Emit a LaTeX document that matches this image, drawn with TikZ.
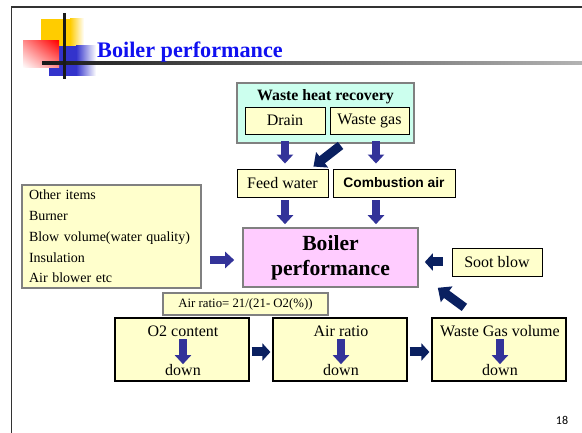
\documentclass[tikz,border=0pt]{standalone}
\usepackage{fontspec}
\setmainfont{Liberation Serif}
\newfontfamily\arialfont{Liberation Sans}
\newfontfamily\calfont{Carlito}
\usetikzlibrary{arrows.meta,calc,shadings}
\definecolor{ybg}{HTML}{FFFFCC}
\definecolor{cbg}{HTML}{CCFFEE}
\definecolor{pbg}{HTML}{FFCCFF}
\definecolor{arrblue}{HTML}{333399}
\definecolor{navy}{HTML}{0A2060}
\definecolor{boxgray}{HTML}{808080}
\definecolor{titleblue}{HTML}{1010F0}
\definecolor{decoyellow}{HTML}{FFCC00}
\definecolor{decoblue}{HTML}{3333CC}
\begin{document}
\begin{tikzpicture}[x=1pt,y=-1pt,
  ybox/.style={draw=black, fill=ybg, line width=0.9pt, inner sep=0pt, align=center},
  gbox/.style={draw=boxgray, line width=1.6pt, inner sep=0pt},
  bluearr/.style={draw=arrblue, line width=7.5pt, -{Triangle[width=16pt,length=9pt]}},
  navyarr/.style={draw=navy, line width=9pt, -{Triangle[width=19pt,length=11pt]}},
  navysm/.style={draw=navy, line width=9pt, -{Triangle[width=17pt,length=8pt]}},
  t16/.style={font=\fontsize{16}{18}\selectfont},
]
\useasboundingbox (0,0) rectangle (582,433);
% slide frame
\draw[draw=black!80, line width=1.6pt] (11.5,433) -- (11.5,6.8) -- (582,6.8);
% decoration
\fill[decoyellow] (41,19) rectangle (70,46);
\shade[left color=decoyellow, right color=white] (70,19) rectangle (84,46);
\fill[decoblue] (49,46) rectangle (76,76);
\shade[left color=decoblue, right color=white] (76,46) rectangle (96,76);
\shade[upper right=red, lower left=white, upper left=red!45!white, lower right=red!45!white] (23,41) rectangle (59,68);
\shade[left color=black!90, right color=black!30] (42,62) rectangle (582,64.5);
\fill[black!90] (63,13) rectangle (65.5,79);
\node[anchor=base west, inner sep=0pt, text=titleblue, font=\fontsize{22.2}{24}\selectfont\bfseries] (title) at (97,58) {Boiler performance};
% waste heat recovery
\node[gbox, fill=cbg, minimum width=177pt, minimum height=60pt] (whr) at (325.5,113) {};
\node[font=\fontsize{15.8}{18}\selectfont\bfseries, inner sep=0pt] (whrt) at (325.5,97) {Waste heat recovery};
\node[ybox, t16, minimum width=80pt, minimum height=27pt] (drain) at (285,120.5) {Drain};
\node[ybox, t16, minimum width=79pt, minimum height=27pt] (wg) at (369.5,120.5) {Waste gas};
\node[ybox, t16, minimum width=91pt, minimum height=28pt] (feed) at (282.5,183) {Feed water};
\node[ybox, font=\fontsize{13.8}{16}\selectfont\arialfont\bfseries, minimum width=122pt, minimum height=28pt] (comb) at (394,183) {Combustion air};
\node[gbox, fill=pbg, minimum width=175pt, minimum height=59pt, font=\fontsize{21.6}{25}\selectfont\bfseries, align=center] (boiler) at (330.5,257.5) {Boiler\\performance};
\node[ybox, t16, minimum width=90pt, minimum height=28pt] (soot) at (497,262) {Soot blow};
\node[gbox, fill=ybg, minimum width=179pt, minimum height=103pt, font=\fontsize{14}{20.8}\selectfont, align=left, text width=165pt] (other) at (111.5,236.5) {Other items\\Burner\\Blow volume(water quality)\\Insulation\\Air blower etc};
\node[draw=boxgray, line width=1.2pt, fill=ybg, inner sep=0pt, minimum width=165pt, minimum height=22pt, font=\fontsize{12.8}{14}\selectfont] (formula) at (245.5,304) {Air ratio= 21/(21- O2(\%))};
% bottom boxes
\node[ybox, line width=1.2pt, minimum width=134pt, minimum height=63pt] (o2) at (182,349.5) {};
\node[ybox, line width=1.2pt, minimum width=134pt, minimum height=63pt] (ar) at (340,349.5) {};
\node[ybox, line width=1.2pt, minimum width=134pt, minimum height=63pt] (wgv) at (499,349.5) {};
\node[inner sep=0pt, t16] (o2t) at (183,331.5) {O2 content};
\node[inner sep=0pt, t16] (o2d) at (183,370) {down};
\node[inner sep=0pt, t16] (art) at (341,331.5) {Air ratio};
\node[inner sep=0pt, t16] (ard) at (341,370) {down};
\node[inner sep=0pt, t16] (wgvt) at (500,331.5) {Waste Gas volume};
\node[inner sep=0pt, t16] (wgvd) at (500,370) {down};
\node[font=\fontsize{12}{14}\selectfont\calfont, inner sep=0pt] (pg) at (562,420) {18};
% helper coordinates
\coordinate (bw) at ([yshift=-2.5pt]boiler.west);
% arrows
\draw[bluearr, shorten <=7pt, shorten >=5pt] (drain.south) -- (drain.south |- feed.north);
\draw[bluearr, shorten <=7pt, shorten >=5pt] ([xshift=6.5pt]wg.south) -- ([xshift=6.5pt]wg.south |- comb.north);
\draw[navyarr] ($(wg.south west)+(11,11)$) -- ($(feed.north east)+(-15,-2)$);
\draw[bluearr, shorten <=3pt, shorten >=3pt] ([xshift=2.5pt]feed.south) -- ([xshift=2.5pt]feed.south |- boiler.north);
\draw[bluearr, shorten <=3pt, shorten >=3pt] ([xshift=-18pt]comb.south) -- ([xshift=-18pt]comb.south |- boiler.north);
\draw[bluearr, shorten <=8pt, shorten >=8pt] (other.east |- bw) -- (bw);
\draw[navysm, shorten <=9pt, shorten >=6pt] (soot.west) -- (soot.west -| boiler.east);
\draw[navyarr] ($(wgv.north west)+(33,-10)$) -- ($(boiler.south east)+(19,0)$);
\draw[navysm, shorten <=2pt, shorten >=2pt] ([yshift=-2.5pt]o2.east) -- ([yshift=-2.5pt]ar.west);
\draw[navysm, shorten <=2pt, shorten >=2pt] ([yshift=-2.5pt]ar.east) -- ([yshift=-2.5pt]wgv.west);
\draw[bluearr, shorten <=2pt, shorten >=0pt] (o2t) -- (o2d);
\draw[bluearr, shorten <=2pt, shorten >=0pt] (art) -- (ard);
\draw[bluearr, shorten <=2pt, shorten >=0pt] (wgvt) -- (wgvd);
\end{tikzpicture}
\end{document}
